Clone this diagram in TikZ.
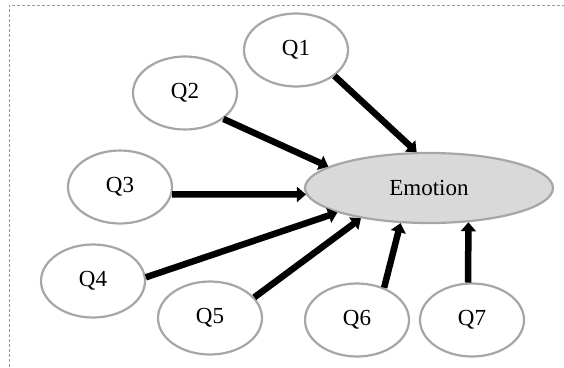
\documentclass[tikz,border=0pt]{standalone}
\usepackage{fontspec}
\setmainfont{Liberation Serif}
\usetikzlibrary{arrows.meta,shapes.geometric}

\tikzset{
	qnode/.style={ellipse, draw=black!35, line width=2.2pt, minimum width=104pt, minimum height=73pt, inner sep=0pt, font=\fontsize{23}{26}\selectfont},
	emonode/.style={qnode, fill=black!15, minimum width=248pt, minimum height=70pt},
	arr/.style={line width=6.5pt, -{Triangle[width=15pt,length=9pt]}}
}

\begin{document}
\begin{tikzpicture}[x=1pt, y=-1pt]
			\useasboundingbox (0,0) rectangle (564,367);
			\draw[black!40, dash pattern=on 3pt off 2pt] (9,367) -- (9,5) -- (564,5);
			\node[emonode] (emo) at (429,188) {Emotion};
			\node[qnode] (q1) at (296,50) {Q1};
			\node[qnode] (q2) at (185,93) {Q2};
			\node[qnode] (q3) at (120,187) {Q3};
			\node[qnode] (q4) at (93,281) {Q4};
			\node[qnode] (q5) at (210,318) {Q5};
			\node[qnode] (q6) at (357,320) {Q6};
			\node[qnode] (q7) at (472,320) {Q7};
			\draw[arr] (q1.-34) -- (emo.109);
			\draw[arr] (q2.-34) -- (emo.168);
			\draw[arr] (q3.-8) -- (emo.183);
			\draw[arr] (q4.4) -- (emo.195);
			\draw[arr] (q5.25) -- (emo.204);
			\draw[arr] (q6.50) -- (emo.231);
			\draw[arr] (q7.96) -- (emo.-41);
		\end{tikzpicture}
\end{document}
